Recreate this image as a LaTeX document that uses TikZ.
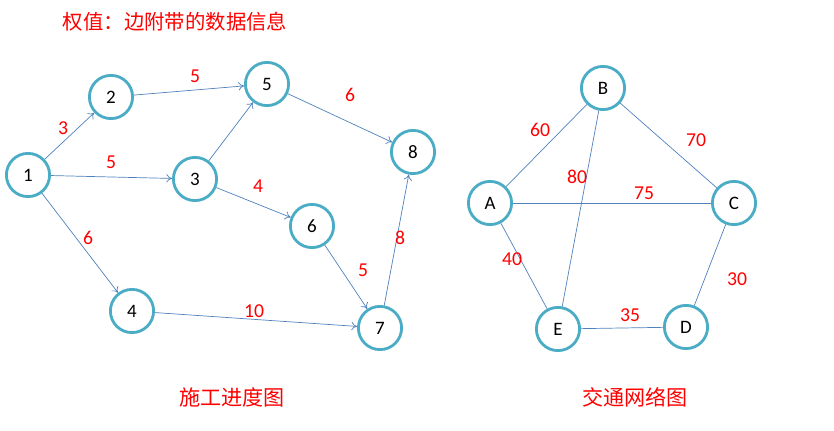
\documentclass[tikz,border=0pt]{standalone}
\usepackage{fontspec}
\setmainfont{Carlito}
\newfontfamily\cjk{Noto Sans CJK SC}
\usetikzlibrary{arrows.meta, positioning}
\definecolor{ring}{HTML}{4BACC6}
\definecolor{edge}{HTML}{4F81BD}
\definecolor{weight}{HTML}{FF0000}

\begin{document}
\begin{tikzpicture}[x=0.025cm, y=-0.025cm,
  vertex/.style={circle, draw=ring, line width=2pt, fill=white, minimum size=1.08cm, inner sep=0pt, font=\fontsize{13.5}{15}\selectfont},
  arc/.style={draw=edge, line width=0.5pt, -{To[length=4pt, width=6pt]}},
  link/.style={draw=edge, line width=0.5pt},
  wt/.style={text=weight, font=\fontsize{14}{16}\selectfont, inner sep=0pt},
  caption/.style={text=weight, font=\cjk\fontsize{14.5}{17}\selectfont}]
\useasboundingbox (0,0) rectangle (834,431);

% title
\node[caption, anchor=west] (title) at (58,22) {权值：边附带的数据信息};

% construction schedule (directed)
\node[vertex] (n1) at (28,175) {1};
\node[vertex] (n2) at (111,97) {2};
\node[vertex] (n5) at (267,84) {5};
\node[vertex] (n8) at (413,152) {8};
\node[vertex] (n3) at (195,179) {3};
\node[vertex] (n6) at (312,226) {6};
\node[vertex] (n4) at (132,311) {4};
\node[vertex] (n7) at (380,328) {7};

\draw[arc] (n1) -- (n2);
\draw[arc] (n2) -- (n5);
\draw[arc] (n1) -- (n3);
\draw[arc] (n3) -- (n5);
\draw[arc] (n5) -- (n8);
\draw[arc] (n3) -- (n6);
\draw[arc] (n1) -- (n4);
\draw[arc] (n6) -- (n7);
\draw[arc] (n4) -- (n7);
\draw[arc] (n7) -- (n8);

\node[wt] (w12) at (63,128) {3};
\node[wt] (w25) at (195,76) {5};
\node[wt] (w13) at (111,162) {5};
\node[wt] (w58) at (350,95) {6};
\node[wt] (w36) at (258,186) {4};
\node[wt] (w14) at (88,238) {6};
\node[wt] (w67) at (363,270) {5};
\node[wt] (w78) at (400,238) {8};
\node[wt] (w47) at (254,311) {10};

\node[caption, font=\cjk\fontsize{15}{18}\selectfont] (cap1) at (232,397) {施工进度图};

% traffic network (undirected)
\node[vertex] (A) at (490,203) {A};
\node[vertex] (B) at (603,88) {B};
\node[vertex] (C) at (734,203) {C};
\node[vertex] (D) at (686,327) {D};
\node[vertex] (E) at (558,329) {E};

\draw[link] (A) -- (B);
\draw[link] (B) -- (C);
\draw[link] (B) -- (E);
\draw[link] (A) -- (C);
\draw[link] (A) -- (E);
\draw[link] (C) -- (D);
\draw[link] (E) -- (D);

\node[wt] (wab) at (540,130) {60};
\node[wt] (wbc) at (696,140) {70};
\node[wt] (wbe) at (577,177) {80};
\node[wt] (wac) at (644,193) {75};
\node[wt] (wae) at (512,259) {40};
\node[wt] (wcd) at (737,279) {30};
\node[wt] (wed) at (630,315) {35};

\node[caption, font=\cjk\fontsize{15}{18}\selectfont] (cap2) at (635,397) {交通网络图};
\end{tikzpicture}
\end{document}
